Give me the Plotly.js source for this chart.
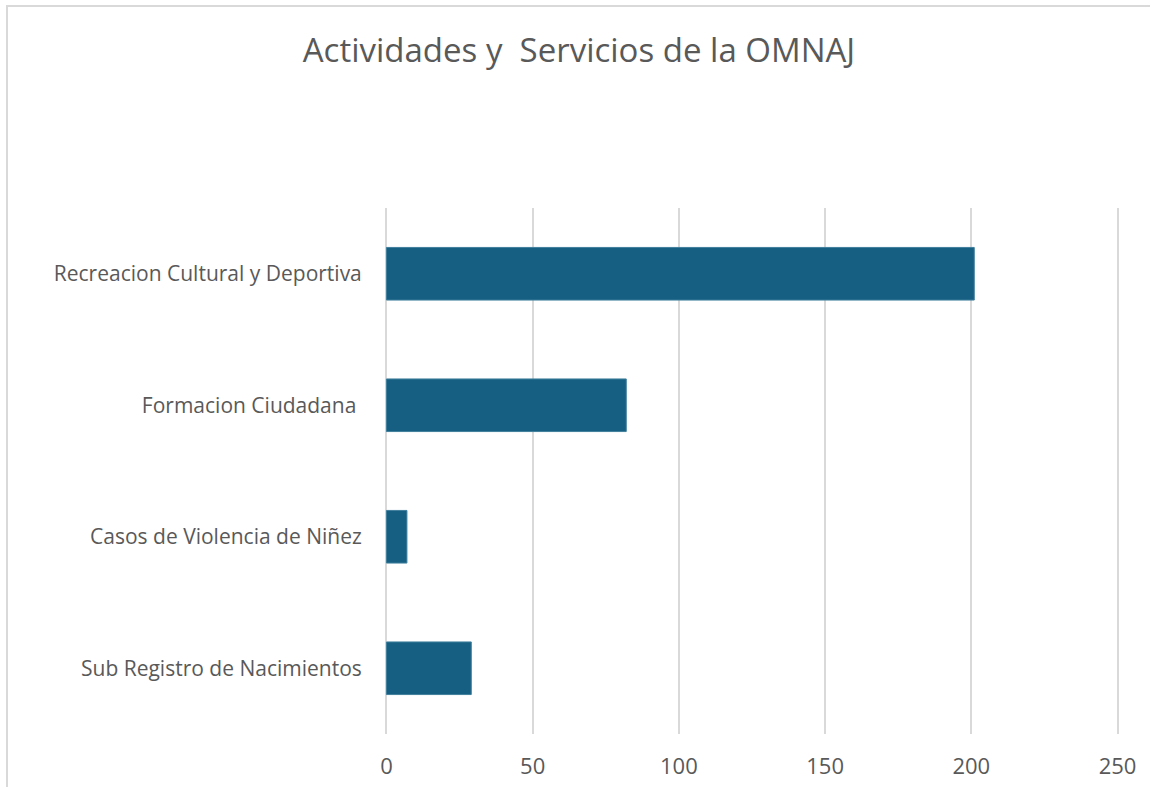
<!DOCTYPE html>
<html>
<head>
<meta charset="utf-8">
<script src="https://cdn.plot.ly/plotly-3.0.1.min.js"></script>
<style>html,body{margin:0;padding:0;background:#fff;}#chart{width:1150px;height:787px;}</style>
</head>
<body>
<div id="chart"></div>
<script>
const categories = ["Recreacion Cultural y Deportiva", "Formacion Ciudadana ", "Casos de Violencia de Niñez", "Sub Registro de Nacimientos"];
const values = [201, 82, 7, 29];
const xTicks = [0, 50, 100, 150, 200, 250];
const chartTitle = "Actividades y  Servicios de la OMNAJ";

const textColor = "#595959";
const fontFamily = "'Open Sans', Lato, sans-serif";

const trace = {
  type: "bar",
  orientation: "h",
  y: categories,
  x: values,
  marker: { color: "#175f82", line: { color: "#3f7f9c", width: 1 } },
  hoverinfo: "x+y"
};

const layout = {
  width: 1150,
  height: 787,
  margin: { l: 385, r: 31, t: 208, b: 53 },
  paper_bgcolor: "#ffffff",
  plot_bgcolor: "#ffffff",
  title: {
    text: chartTitle,
    font: { family: fontFamily, size: 33, color: textColor },
    x: 579 / 1150, xref: "container", xanchor: "center",
    y: 1 - 50 / 787, yref: "container", yanchor: "middle"
  },
  bargap: 0.6,
  showlegend: false,
  xaxis: {
    range: [-0.5, 250.5],
    tickvals: xTicks,
    ticktext: xTicks.map(String),
    showgrid: true,
    gridcolor: "#d9d9d9",
    gridwidth: 2,
    zeroline: false,
    showline: false,
    ticks: "outside",
    ticklen: 13,
    tickcolor: "rgba(0,0,0,0)",
    tickfont: { family: fontFamily, size: 22, color: textColor },
    fixedrange: true
  },
  yaxis: {
    type: "category",
    categoryorder: "array",
    categoryarray: categories.slice().reverse(),
    autorange: true,
    showgrid: false,
    zeroline: false,
    showline: false,
    ticks: "outside",
    ticklen: 18,
    tickcolor: "rgba(0,0,0,0)",
    tickfont: { family: fontFamily, size: 21, color: textColor },
    fixedrange: true
  },
  shapes: [
    {
      type: "rect", xref: "paper", yref: "paper", layer: "below",
      x0: (7 - 385) / 734, x1: 1.2,
      y0: -0.3, y1: (734 - 6) / 526,
      line: { color: "#d9d9d9", width: 2 },
      fillcolor: "rgba(0,0,0,0)"
    }
  ]
};

Plotly.newPlot("chart", [trace], layout, { displayModeBar: false, staticPlot: true });
</script>
</body>
</html>
